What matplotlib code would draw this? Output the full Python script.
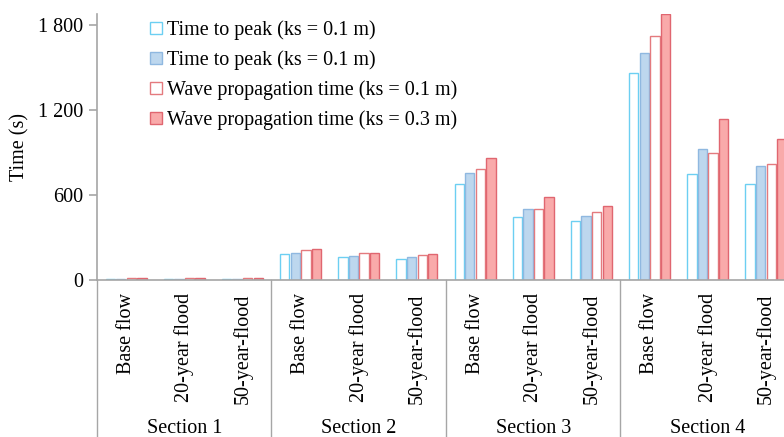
import numpy as np
import matplotlib.pyplot as plt
from matplotlib.patches import Patch
from matplotlib.transforms import blended_transform_factory

plt.rcParams["font.family"] = ["Liberation Serif", "DejaVu Serif"]

sections = ["Section 1", "Section 2", "Section 3", "Section 4"]
scenarios = ["Base flow", "20-year flood", "50-year-flood"]
series_names = [
    "Time to peak (ks = 0.1 m)",
    "Time to peak (ks = 0.1 m)",
    "Wave propagation time (ks = 0.1 m)",
    "Wave propagation time (ks = 0.3 m)",
]

# one value per group: S1 base, S1 20y, S1 50y, S2 base, ...
peak_01 = [8, 8, 8, 184, 160, 150, 680, 442, 414, 1461, 748, 680]
peak_03 = [8, 8, 8, 193, 172, 165, 755, 501, 450, 1605, 925, 805]
wave_01 = [15, 15, 15, 212, 193, 176, 781, 501, 478, 1725, 901, 819]
wave_03 = [15, 15, 15, 221, 193, 184, 864, 588, 525, 1880, 1139, 995]

yticks = [0, 600, 1200, 1800]
ytick_labels = ["0", "600", "1 200", "1 800"]

styles = [
    dict(facecolor="white", edgecolor="#6CCFF2"),
    dict(facecolor="#BDD7EE", edgecolor="#8FB8E0"),
    dict(facecolor="white", edgecolor="#E47A7E"),
    dict(facecolor="#F9AAAA", edgecolor="#E06670"),
]

W, H = 784, 437
fig = plt.figure(figsize=(W / 100, H / 100), dpi=100)
ax = fig.add_axes([97 / W, (H - 280) / H, (795 - 97) / W, (280 - 14) / H])

x = np.arange(len(sections) * len(scenarios))
bw = 0.16
step = 0.182
for i, (vals, st) in enumerate(zip([peak_01, peak_03, wave_01, wave_03], styles)):
    ax.bar(x + (i - 1.5) * step, vals, width=bw, linewidth=1.0, **st)

ax.set_xlim(-0.5, len(x) - 0.5)
ax.set_ylim(0, 1880)
ax.set_yticks(yticks)
ax.set_yticklabels(ytick_labels, fontsize=14.5)
ax.set_xticks([])
ax.set_ylabel("Time (s)", fontsize=14.5, labelpad=6)

for s in ["top", "right"]:
    ax.spines[s].set_visible(False)
for s in ["left", "bottom"]:
    ax.spines[s].set_color("#A6A6A6")
    ax.spines[s].set_linewidth(1.2)
ax.tick_params(axis="y", direction="out", length=6, color="#A6A6A6", width=1.2, pad=4)

tr = blended_transform_factory(ax.transData, ax.transAxes)
bottom = -(H - 280) / (280 - 14) - 0.01
for k in range(len(sections) + 1):
    xd = k * len(scenarios) - 0.5
    ax.plot([xd, xd], [0, bottom], transform=tr, color="#A6A6A6", lw=1.0, clip_on=False)

for j, xi in enumerate(x):
    ax.text(xi, -0.05, scenarios[j % len(scenarios)], transform=tr, rotation=90,
            ha="center", va="top", fontsize=14.5)

for k, name in enumerate(sections):
    xc = k * len(scenarios) + (len(scenarios) - 1) / 2
    ax.text(xc, -0.56, name, transform=tr, ha="center", va="center", fontsize=14.5)

handles = [Patch(label=n, linewidth=1.0, **st) for n, st in zip(series_names, styles)]
ax.legend(handles=handles, loc="upper left", bbox_to_anchor=(0.065, 1.005), frameon=False,
          fontsize=14.5, handlelength=0.55, handleheight=0.55, handletextpad=0.25,
          labelspacing=0.5, borderaxespad=0)

fig.savefig("out.png", dpi=100)
